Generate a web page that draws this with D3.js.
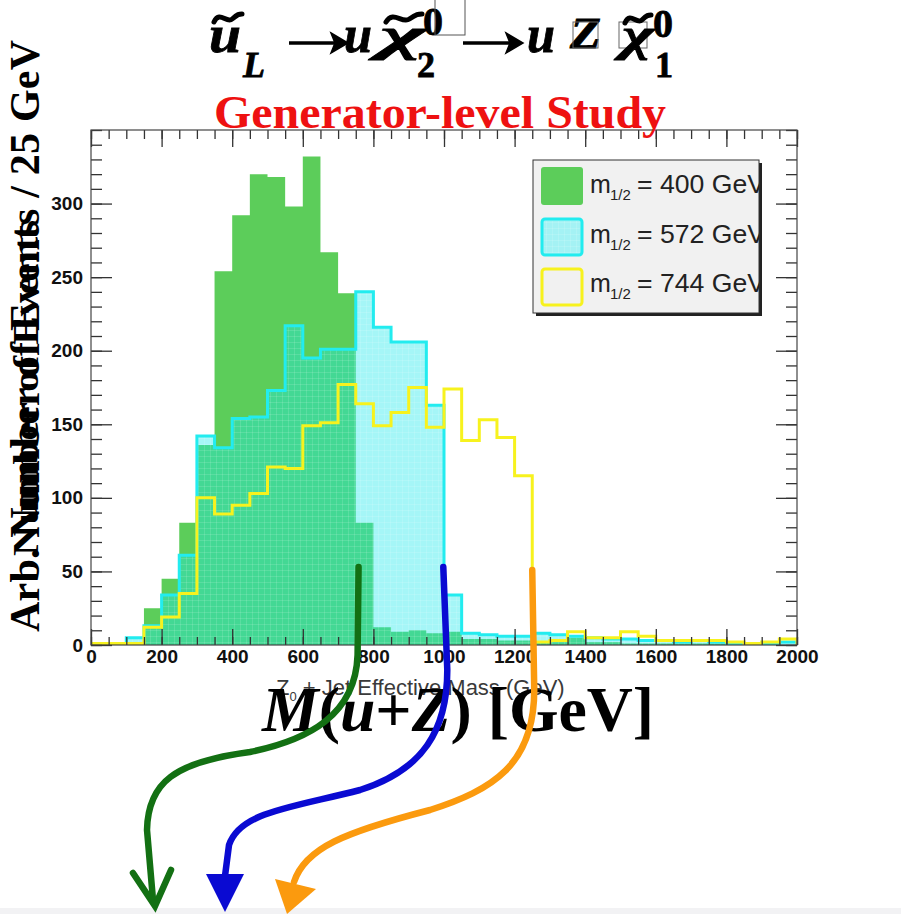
<!DOCTYPE html>
<html>
<head>
<meta charset="utf-8">
<script src="https://cdn.jsdelivr.net/npm/d3@7"></script>
<style>
  html, body { margin: 0; padding: 0; background: #ffffff; }
  svg { display: block; }
</style>
</head>
<body>
<div id="chart"></div>
<script>
// ---------------- DATA ----------------
// lower edges of the 50 GeV bins, 0 .. 1950
const binLo = [0, 50, 100, 150, 200, 250, 300, 350, 400, 450,
  500, 550, 600, 650, 700, 750, 800, 850, 900, 950,
  1000, 1050, 1100, 1150, 1200, 1250, 1300, 1350, 1400, 1450,
  1500, 1550, 1600, 1650, 1700, 1750, 1800, 1850, 1900, 1950];
const binWidth = 50;

// m1/2 = 400 GeV (green, filled)
const green400 = [0, 0, 0, 25, 45, 83, 136, 254, 292, 320,
  318, 298, 332, 267, 239, 83, 12, 9, 10, 8,
  9, 4, 4, 3, 3, 2, 2, 5, 2, 2,
  1, 1, 1, 1, 1, 1, 0, 1, 0, 0];
// m1/2 = 572 GeV (cyan, hatched)
const cyan572 = [0, 0, 5, 13, 34, 61, 142, 134, 154, 155,
  173, 217, 195, 201, 201, 240, 216, 206, 206, 163,
  34, 8, 7, 6, 6, 8, 7, 6, 5, 4,
  4, 3, 3, 2, 3, 2, 1, 1, 1, 2];
// m1/2 = 744 GeV (yellow, outline)
const yellow744 = [1, 1, 1, 12, 19, 35, 100, 89, 95, 103,
  121, 120, 149, 151, 177, 164, 149, 158, 175, 148,
  174, 139, 153, 141, 115, 2, 3, 9, 5, 5,
  9, 6, 3, 3, 3, 3, 2, 1, 2, 4];

const seriesNames = ["400", "572", "744"];
const xTickLabels = [0, 200, 400, 600, 800, 1000, 1200, 1400, 1600, 1800, 2000];
const xMinorTicks = [0, 50, 100, 150, 200, 250, 300, 350, 400, 450, 500, 550, 600, 650, 700, 750, 800, 850, 900, 950,
  1000, 1050, 1100, 1150, 1200, 1250, 1300, 1350, 1400, 1450, 1500, 1550, 1600, 1650, 1700, 1750, 1800, 1850, 1900, 1950, 2000];
const yTickLabels = [0, 50, 100, 150, 200, 250, 300];
const yMinorTicks = [0, 10, 20, 30, 40, 50, 60, 70, 80, 90, 100, 110, 120, 130, 140, 150, 160, 170, 180, 190,
  200, 210, 220, 230, 240, 250, 260, 270, 280, 290, 300, 310, 320, 330, 340, 350];
// where the three arrows start (GeV) = end points of the distributions
const arrowStarts = [758, 998, 1250];

// ---------------- LAYOUT ----------------
const W = 901, H = 914;
const frame = { left: 91, right: 797, top: 130, bottom: 645 };
const COL = {
  green: "#5ccd5a",
  cyanLine: "#22ecef",
  cyanFill: "rgba(30,232,236,0.40)",
  yellow: "#f7f21e",
  red: "#ee1111",
  arrowGreen: "#137013",
  arrowBlue: "#0a0ad2",
  arrowOrange: "#fb9a0e"
};

const svg = d3.select("#chart").append("svg")
  .attr("width", W).attr("height", H)
  .attr("viewBox", `0 0 ${W} ${H}`);

const x = d3.scaleLinear().domain([0, 2000]).range([frame.left, frame.right]);
const y = d3.scaleLinear().domain([0, 350]).range([frame.bottom, frame.top]);

const defs = svg.append("defs");
defs.append("clipPath").attr("id", "plotClip")
  .append("rect").attr("x", frame.left).attr("y", frame.top)
  .attr("width", frame.right - frame.left).attr("height", frame.bottom - frame.top);
defs.append("clipPath").attr("id", "legClip")
  .append("rect").attr("x", 533).attr("y", 160).attr("width", 226).attr("height", 153);
const pat = defs.append("pattern").attr("id", "hatch")
  .attr("patternUnits", "userSpaceOnUse").attr("width", 6).attr("height", 6);
pat.append("path").attr("d", "M0 0.5 H6 M0.5 0 V6")
  .attr("stroke", "rgba(255,255,255,0.12)").attr("stroke-width", 1);

// bottom grey strip
svg.append("rect").attr("x", 0).attr("y", 908).attr("width", W).attr("height", 6).attr("fill", "#f2f2f4");

// ---------------- HISTOGRAMS ----------------
function stepPoints(vals) {
  const pts = [[x(binLo[0]), y(0)]];
  vals.forEach((v, i) => {
    pts.push([x(binLo[i]), y(v)]);
    pts.push([x(binLo[i] + binWidth), y(v)]);
  });
  pts.push([x(binLo[binLo.length - 1] + binWidth), y(0)]);
  return pts;
}
const line = d3.line();
const plot = svg.append("g").attr("clip-path", "url(#plotClip)");

plot.append("path").attr("d", line(stepPoints(green400)) + "Z")
  .attr("fill", COL.green).attr("stroke", "none");

plot.append("path").attr("d", line(stepPoints(cyan572)) + "Z")
  .attr("fill", COL.cyanFill).attr("stroke", "none");
plot.append("path").attr("d", line(stepPoints(cyan572)) + "Z")
  .attr("fill", "url(#hatch)").attr("stroke", "none");
plot.append("path").attr("d", line(stepPoints(cyan572)))
  .attr("fill", "none").attr("stroke", COL.cyanLine).attr("stroke-width", 3);

plot.append("path").attr("d", line(stepPoints(yellow744)))
  .attr("fill", "none").attr("stroke", COL.yellow).attr("stroke-width", 3);

// ---------------- AXES ----------------
function styleAxis(g) {
  g.select(".domain").remove();
  g.selectAll(".tick line").attr("stroke", "#333").attr("stroke-width", 1.3);
  g.selectAll("text").attr("fill", "#111")
    .style("font-family", "'Liberation Sans', Arial, sans-serif")
    .style("font-weight", "bold").style("font-size", "19px");
}
const fmt = d3.format("d");
svg.append("g").attr("transform", `translate(0,${frame.bottom})`)
  .call(d3.axisBottom(x).tickValues(xMinorTicks).tickSize(-8).tickFormat("")).call(styleAxis);
svg.append("g").attr("transform", `translate(0,${frame.bottom})`)
  .call(d3.axisBottom(x).tickValues(xTickLabels).tickSize(-16).tickPadding(4.5).tickFormat(fmt)).call(styleAxis);
svg.append("g").attr("transform", `translate(0,${frame.top})`)
  .call(d3.axisTop(x).tickValues(xMinorTicks).tickSize(-9).tickFormat("")).call(styleAxis);
svg.append("g").attr("transform", `translate(0,${frame.top})`)
  .call(d3.axisTop(x).tickValues(xTickLabels).tickSize(-17).tickFormat("")).call(styleAxis);
svg.append("g").attr("transform", `translate(${frame.left},0)`)
  .call(d3.axisLeft(y).tickValues(yMinorTicks).tickSize(-11).tickFormat("")).call(styleAxis);
svg.append("g").attr("transform", `translate(${frame.left},0)`)
  .call(d3.axisLeft(y).tickValues(yTickLabels).tickSize(-21).tickPadding(8).tickFormat(fmt)).call(styleAxis);
svg.append("g").attr("transform", `translate(${frame.right},0)`)
  .call(d3.axisRight(y).tickValues(yMinorTicks).tickSize(-11).tickFormat("")).call(styleAxis);
svg.append("g").attr("transform", `translate(${frame.right},0)`)
  .call(d3.axisRight(y).tickValues(yTickLabels).tickSize(-21).tickFormat("")).call(styleAxis);

svg.append("rect").attr("x", frame.left).attr("y", frame.top)
  .attr("width", frame.right - frame.left).attr("height", frame.bottom - frame.top)
  .attr("fill", "none").attr("stroke", "#444").attr("stroke-width", 1.2);

// ---------------- LEGEND ----------------
const leg = svg.append("g");
leg.append("rect").attr("x", 536).attr("y", 163).attr("width", 226).attr("height", 153).attr("fill", "#222");
leg.append("rect").attr("x", 533).attr("y", 160).attr("width", 226).attr("height", 153)
  .attr("fill", "#f1f1f1").attr("stroke", "#333").attr("stroke-width", 1);
const legY = [167, 218, 268];
const legTextY = [193, 243, 292];
// green
leg.append("rect").attr("x", 541).attr("y", legY[0]).attr("width", 42).attr("height", 38).attr("rx", 3)
  .attr("fill", COL.green);
// cyan
leg.append("rect").attr("x", 542).attr("y", legY[1] + 1).attr("width", 40).attr("height", 36).attr("rx", 3)
  .attr("fill", "#a4f2f4").attr("stroke", COL.cyanLine).attr("stroke-width", 3);
leg.append("rect").attr("x", 544).attr("y", legY[1] + 3).attr("width", 36).attr("height", 32)
  .attr("fill", "url(#hatch)");
// yellow
leg.append("rect").attr("x", 542).attr("y", legY[2] + 1).attr("width", 40).attr("height", 36).attr("rx", 3)
  .attr("fill", "#f1f1f1").attr("stroke", COL.yellow).attr("stroke-width", 3);
const legTxt = leg.append("g").attr("clip-path", "url(#legClip)")
  .style("font-family", "'Liberation Sans', Arial, sans-serif").attr("fill", "#222");
seriesNames.forEach((s, i) => {
  legTxt.append("text").attr("x", 590).attr("y", legTextY[i]).style("font-size", "25px").text("m");
  legTxt.append("text").attr("x", 610).attr("y", legTextY[i] + 7).style("font-size", "15px").text("1/2");
  legTxt.append("text").attr("x", 637).attr("y", legTextY[i]).style("font-size", "25px")
    .attr("textLength", 128).attr("lengthAdjust", "spacingAndGlyphs").text(`= ${s} GeV`);
});

// ---------------- TEXTS ----------------
const serif = "'Liberation Serif', 'Times New Roman', serif";
const T = svg.append("g").style("font-family", serif).attr("fill", "#000").style("font-weight", "bold");

// title formula: ũ_L → u χ̃2^0 → u Z χ̃1^0
function tilde(x0, y0, w) {
  T.append("path")
    .attr("d", `M${x0} ${y0 + 8} C${x0 + w * 0.2} ${y0 - 4}, ${x0 + w * 0.45} ${y0 + 10}, ${x0 + w * 0.65} ${y0 + 5} S${x0 + w * 0.9} ${y0}, ${x0 + w} ${y0}`)
    .attr("fill", "none").attr("stroke", "#000").attr("stroke-width", 5).attr("stroke-linecap", "round");
}
function arrowR(x0, x1, yy) {
  T.append("line").attr("x1", x0).attr("x2", x1 - 10).attr("y1", yy).attr("y2", yy)
    .attr("stroke", "#000").attr("stroke-width", 3.5);
  T.append("path").attr("d", `M${x1 - 17} ${yy - 10} L${x1} ${yy} L${x1 - 17} ${yy + 10} L${x1 - 13} ${yy} Z`)
    .attr("fill", "#000").attr("stroke", "#000").attr("stroke-width", 1.5);
}
const big = "52px", sub = "36px";
function glyph(gx, gy, size, italic, txt, tl) {
  const t = T.append("text").attr("x", gx).attr("y", gy).style("font-size", size)
    .attr("stroke", "#000").attr("stroke-width", 0.8).text(txt);
  if (italic) t.style("font-style", "italic");
  if (tl) t.attr("textLength", tl).attr("lengthAdjust", "spacingAndGlyphs");
  return t;
}
glyph(209, 52, big, true, "u", 32);
tilde(214, 14, 28);
glyph(243, 77, sub, true, "L");
arrowR(289, 348, 43);
glyph(344, 52, big, true, "u", 28);
glyph(380, 50, "46px", true, "χ", 46);
tilde(386, 14, 36);
glyph(417, 77, sub, false, "2");
glyph(423, 35, "40px", false, "0");
T.append("rect").attr("x", 435).attr("y", -2).attr("width", 30).attr("height", 37)
  .attr("fill", "none").attr("stroke", "#555").attr("stroke-width", 1);
arrowR(463, 523, 43);
glyph(527, 52, big, true, "u", 28);
glyph(570, 48, "44px", true, "Z", 31);
T.append("rect").attr("x", 573).attr("y", 22).attr("width", 25).attr("height", 26)
  .attr("fill", "none").attr("stroke", "#666").attr("stroke-width", 1);
T.append("rect").attr("x", 619).attr("y", 22).attr("width", 28).attr("height", 26)
  .attr("fill", "none").attr("stroke", "#666").attr("stroke-width", 1);
glyph(622, 50, "46px", true, "χ", 32);
tilde(625, 15, 26);
glyph(655, 77, sub, false, "1");
glyph(653, 37, "40px", false, "0");

// red subtitle
svg.append("text").attr("x", 214).attr("y", 128)
  .style("font-family", serif).style("font-weight", "bold").style("font-size", "46px")
  .attr("fill", COL.red).attr("textLength", 452).attr("lengthAdjust", "spacingAndGlyphs")
  .text("Generator-level Study");

// y-axis titles (two overlapping labels)
svg.append("text").attr("transform", "translate(39,632) rotate(-90)")
  .style("font-family", serif).style("font-weight", "bold").style("font-size", "42px").attr("fill", "#000")
  .attr("textLength", 592).attr("lengthAdjust", "spacing")
  .text("Arb. Number of Events / 25 GeV");
svg.append("text").attr("transform", "translate(38,556) rotate(-90)")
  .style("font-family", serif).style("font-weight", "bold").style("font-size", "36px").attr("fill", "#000")
  .attr("textLength", 336).attr("lengthAdjust", "spacingAndGlyphs")
  .text("Number of Events");

// ROOT x title (grey) under the big label
const xt = svg.append("text").attr("x", 276).attr("y", 695)
  .style("font-family", "'Liberation Sans', Arial, sans-serif").style("font-size", "22px").attr("fill", "#3a3a3a");
xt.append("tspan").text("Z");
xt.append("tspan").attr("dy", 6).style("font-size", "13px").text("0");
xt.append("tspan").attr("dy", -6).text(" + Jet Effective Mass (GeV)");

// big x title M(u+Z) [GeV]
const bt = svg.append("text").attr("x", 262).attr("y", 731)
  .style("font-family", serif).style("font-weight", "bold").style("font-size", "64px").attr("fill", "#000")
  .attr("textLength", 392).attr("lengthAdjust", "spacingAndGlyphs");
bt.append("tspan").style("font-style", "italic").text("M");
bt.append("tspan").text("(");
bt.append("tspan").style("font-style", "italic").text("u");
bt.append("tspan").text("+");
bt.append("tspan").style("font-style", "italic").text("Z");
bt.append("tspan").text(") [GeV]");

// ---------------- ARROWS ----------------
const A = svg.append("g").attr("fill", "none").attr("stroke-width", 6.5).attr("stroke-linecap", "round");
// green
const gx = x(arrowStarts[0]);
A.append("path").attr("stroke", COL.arrowGreen)
  .attr("d", `M${gx} 567 L${gx - 1} 655 C${gx - 3} 715, ${gx - 50} 740, 250 752 C175 762, 148 782, 147 830 L153 900`);
A.append("path").attr("stroke", COL.arrowGreen).attr("stroke-linejoin", "miter")
  .attr("d", "M133 873 L155 906 L171 870");
// blue
const bx = x(arrowStarts[1]);
A.append("path").attr("stroke", COL.arrowBlue)
  .attr("d", `M${bx} 567 L${bx + 4} 670 C${bx + 4} 730, ${bx - 20} 770, 360 790 C290 808, 240 812, 229 845 L225 876`);
svg.append("path").attr("fill", COL.arrowBlue)
  .attr("d", "M206 874 L244 874 L225 912 Z");
// orange
const ox = x(arrowStarts[2]);
A.append("path").attr("stroke", COL.arrowOrange)
  .attr("d", `M${ox} 570 L${ox + 2} 690 C${ox + 2} 765, ${ox - 40} 790, 430 810 C345 832, 305 848, 294 882`);
svg.append("path").attr("fill", COL.arrowOrange)
  .attr("d", "M275 879 L316 889 L287 914 Z");
</script>
</body>
</html>
